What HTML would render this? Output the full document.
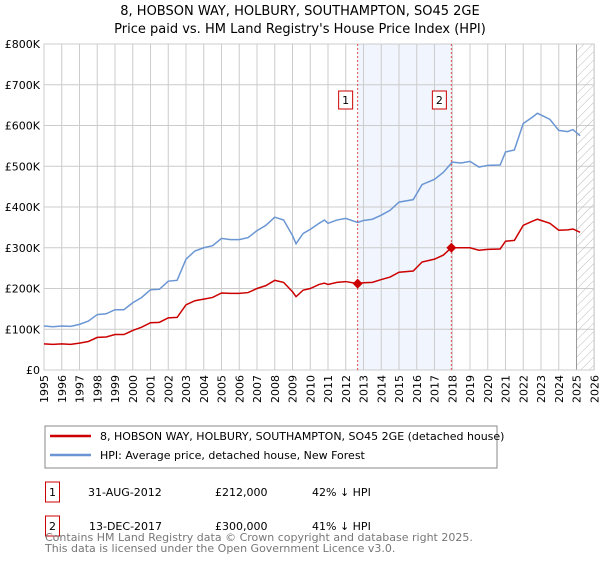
<!DOCTYPE html>
<html><head><meta charset="utf-8"><style>
body{margin:0;background:#fff;font-family:"DejaVu Sans","Liberation Sans",sans-serif;}
svg text{font-family:"DejaVu Sans","Liberation Sans",sans-serif;}
</style></head><body>
<svg width="600" height="560" xmlns="http://www.w3.org/2000/svg" id="chart">
<defs><pattern id="hatch" width="6" height="6" patternUnits="userSpaceOnUse" patternTransform="rotate(45)"><line x1="0" y1="0" x2="0" y2="6" stroke="#bbb" stroke-width="1"/></pattern></defs>
<text x="300" y="15" text-anchor="middle" font-size="13">8, HOBSON WAY, HOLBURY, SOUTHAMPTON, SO45 2GE</text>
<text x="300" y="33" text-anchor="middle" font-size="13">Price paid vs. HM Land Registry's House Price Index (HPI)</text>
<g id="plot"></g>
<rect x="45" y="426" width="452" height="42" fill="none" stroke="#888"/>
<line x1="50" y1="436" x2="91" y2="436" stroke="#cc0000" stroke-width="2.5"/>
<text x="100" y="440" font-size="11">8, HOBSON WAY, HOLBURY, SOUTHAMPTON, SO45 2GE (detached house)</text>
<line x1="50" y1="455" x2="91" y2="455" stroke="#6a96d4" stroke-width="2.5"/>
<text x="100" y="459" font-size="11">HPI: Average price, detached house, New Forest</text>
<g font-size="11">
<rect x="45.5" y="482" width="14" height="20" fill="none" stroke="#cc0000"/><text x="52.5" y="496" text-anchor="middle">1</text>
<text x="88" y="496">31-AUG-2012</text><text x="215" y="496">£212,000</text><text x="312" y="496">42% ↓ HPI</text>
<rect x="45.5" y="516" width="14" height="20" fill="none" stroke="#cc0000"/><text x="52.5" y="530" text-anchor="middle">2</text>
<text x="89" y="530">13-DEC-2017</text><text x="215" y="530">£300,000</text><text x="312" y="530">41% ↓ HPI</text>
</g>
<text x="45" y="541" font-size="11" fill="#777">Contains HM Land Registry data © Crown copyright and database right 2025.</text>
<text x="45" y="552" font-size="11" fill="#777">This data is licensed under the Open Government Licence v3.0.</text>
</svg>
<script>
const hpiYears=[1995,1995.5,1996,1996.5,1997,1997.5,1998,1998.5,1999,1999.5,2000,2000.5,2001,2001.5,2002,2002.5,2003,2003.5,2004,2004.5,2005,2005.5,2006,2006.5,2007,2007.5,2008,2008.5,2009,2009.2,2009.6,2010,2010.5,2010.8,2011,2011.5,2012,2012.67,2013,2013.5,2014,2014.5,2015,2015.8,2016.3,2017,2017.5,2018,2018.5,2019,2019.5,2020,2020.7,2021,2021.5,2022,2022.5,2022.8,2023.5,2024,2024.5,2024.8,2025.2];
const hpiValues=[108,106,108,107,112,120,136,138,148,148,165,178,197,198,218,220,272,292,300,305,323,320,320,325,342,355,375,368,330,310,335,345,360,368,360,368,372,362,367,370,380,392,412,418,455,468,485,510,508,512,498,502,503,535,540,605,620,630,615,588,585,590,575];
const redYears=[1995,1995.5,1996,1996.5,1997,1997.5,1998,1998.5,1999,1999.5,2000,2000.5,2001,2001.5,2002,2002.5,2003,2003.5,2004,2004.5,2005,2005.5,2006,2006.5,2007,2007.5,2008,2008.5,2009,2009.2,2009.6,2010,2010.5,2010.8,2011,2011.5,2012,2012.67,2013,2013.5,2014,2014.5,2015,2015.8,2016.3,2017,2017.5,2017.95,2018.5,2019,2019.5,2020,2020.7,2021,2021.5,2022,2022.5,2022.8,2023.5,2024,2024.5,2024.8,2025.2];
const redValues=[64,63,64,63,66,70,80,81,87,87,97,105,116,117,128,129,160,170,174,178,189,188,188,190,200,207,220,215,192,180,196,200,210,213,210,215,217,212,214,215,222,228,240,243,265,272,282,300,300,300,294,296,297,316,318,355,365,370,360,343,344,346,338];
const yTicks=[0,100,200,300,400,500,600,700,800];
const yTickLabels=["£0","£100K","£200K","£300K","£400K","£500K","£600K","£700K","£800K"];
const xTicks=[1995,1996,1997,1998,1999,2000,2001,2002,2003,2004,2005,2006,2007,2008,2009,2010,2011,2012,2013,2014,2015,2016,2017,2018,2019,2020,2021,2022,2023,2024,2025,2026];
const sales=[{label:"1",year:2012.67,value:212},{label:"2",year:2017.95,value:300}];
const ns="http://www.w3.org/2000/svg";
const L=44,R=594,T=44,B=370;
const xs=y=>L+(y-1995)*17.75;
const ys=v=>B-v/800*(B-T);
const g=document.getElementById('plot');
function mk(t,a){const e=document.createElementNS(ns,t);for(const k in a)e.setAttribute(k,a[k]);g.appendChild(e);return e;}
let e=mk('rect',{x:xs(sales[0].year),y:T,width:xs(sales[1].year)-xs(sales[0].year),height:B-T,fill:'#eef3fc',opacity:0.8});


xTicks.forEach(t=>{const l=mk('line',{x1:xs(t),x2:xs(t),y1:T,y2:B,stroke:'#ccc'});


const tx=mk('text',{x:0,y:0,'font-size':11,'text-anchor':'end',transform:`translate(${xs(t)+4},${B+5}) rotate(-90)`});tx.textContent=t;

});
yTicks.forEach((t,i)=>{const l=mk('line',{x1:L,x2:R,y1:ys(t),y2:ys(t),stroke:'#ccc'});


const tx=mk('text',{x:L-4,y:ys(t)+4,'font-size':11,'text-anchor':'end'});tx.textContent=yTickLabels[i];

});
e=mk('rect',{x:xs(2025),y:T,width:R-xs(2025),height:B-T,fill:'url(#hatch)',stroke:'#999'});


e=mk('rect',{x:L,y:T,width:R-L,height:B-T,fill:'none',stroke:'#ccc'});


function line(xa,va,c,n){const p=mk('polyline',{points:xa.map((x,i)=>xs(x)+','+ys(va[i])).join(' '),fill:'none',stroke:c,'stroke-width':1.5});

}
line(hpiYears,hpiValues,'#6a96d4','hpi-line');
line(redYears,redValues,'#cc0000','price-paid-line');
sales.forEach(s=>{const x=xs(s.year);
const d=mk('line',{x1:x,x2:x,y1:T,y2:B,stroke:'#e05050','stroke-dasharray':'2,2'});


const b=mk('rect',{x:x-19,y:91,width:14,height:18,fill:'#fff',stroke:'#cc0000'});


const t=mk('text',{x:x-12,y:104,'font-size':11,'text-anchor':'middle'});t.textContent=s.label;


const y=ys(s.value);
const m=mk('polygon',{points:`${x},${y-5} ${x+5},${y} ${x},${y+5} ${x-5},${y}`,fill:'#cc0000'});

});
</script>
</body></html>
